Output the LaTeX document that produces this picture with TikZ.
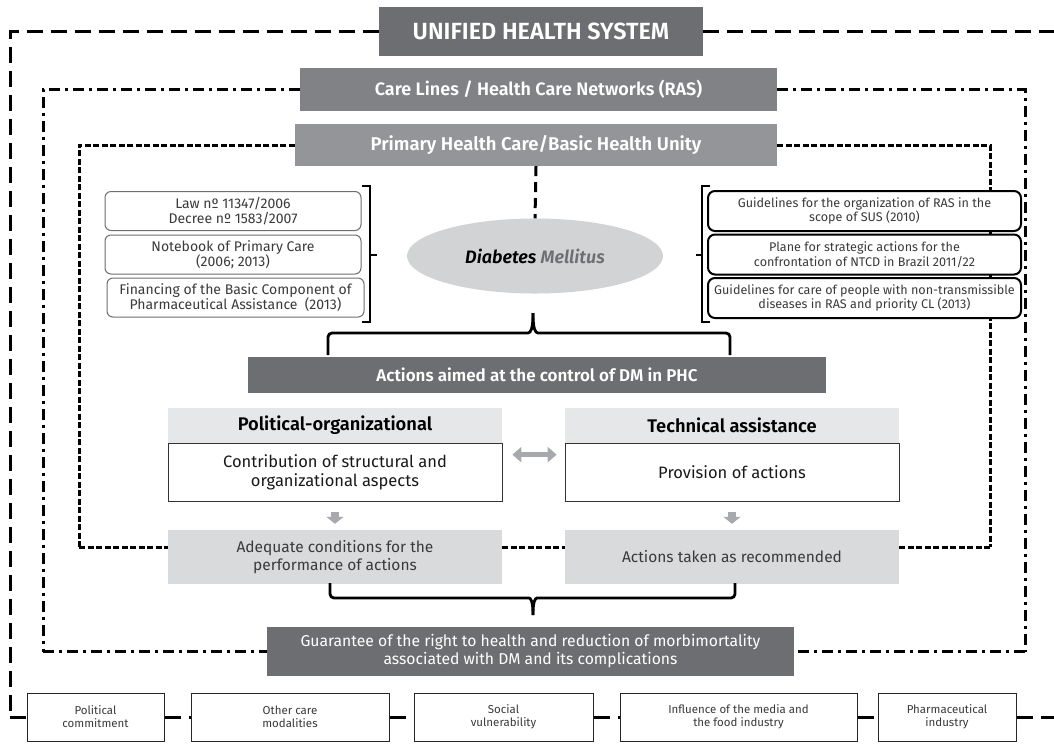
\documentclass[tikz,border=0pt]{standalone}
\usepackage{fontspec}
\setmainfont{Fira Sans}[BoldFont={Fira Sans SemiBold},BoldItalicFont={Fira Sans SemiBold Italic}]
\usetikzlibrary{arrows.meta,shapes.geometric,calc}
\definecolor{dk}{HTML}{6D6E71}
\definecolor{md}{HTML}{808285}
\definecolor{lt}{HTML}{939598}
\definecolor{ell}{HTML}{D1D3D4}
\definecolor{hdr}{HTML}{E6E7E8}
\definecolor{res}{HTML}{D9DADB}
\definecolor{arr}{HTML}{A7A9AC}
\definecolor{txt}{HTML}{3A3A3C}
\tikzset{
  banner/.style={fill=#1, text=white, inner sep=0pt, anchor=center},
  darkbar/.style={fill=dk, text=white, inner sep=0pt, anchor=center, align=center},
  lawbox/.style={draw=dk, line width=1pt, rounded corners=6pt, fill=white, inner sep=0pt, minimum height=39pt, text=txt, align=center, font=\fontsize{14}{15.5}\selectfont},
  guidebox/.style={draw=black, line width=2pt, rounded corners=7pt, fill=white, inner sep=0pt, minimum width=313pt, minimum height=40pt, text=txt, align=center, font=\fontsize{12.6}{14.5}\selectfont},
  headbox/.style={fill=hdr, inner sep=0pt, minimum width=334pt, minimum height=35pt, font=\bfseries\fontsize{18.3}{21}\selectfont},
  contbox/.style={draw=black!80, line width=1pt, fill=white, inner sep=0pt, minimum width=334pt, minimum height=58pt, align=center, font=\fontsize{16.5}{19}\selectfont, text=black!90},
  resbox/.style={fill=res, inner sep=0pt, minimum width=334pt, minimum height=54pt, align=center, font=\fontsize{15.5}{18}\selectfont, text=txt},
  factbox/.style={draw=black!85, line width=1pt, fill=white, inner sep=0pt, minimum height=48pt, align=center, font=\fontsize{11.5}{13}\selectfont, text=txt},
  outerline/.style={line width=3pt, dash pattern=on 16pt off 8pt},
  dashdotline/.style={line width=3pt, dash pattern=on 11pt off 5pt on 3pt off 5pt},
  finedash/.style={line width=3pt, dash pattern=on 6pt off 2.5pt},
  vdash/.style={line width=3pt, dash pattern=on 10pt off 6pt},
  bracefine/.style={line width=2.8pt, rounded corners=4pt},
  brack/.style={line width=1.4pt},
  grayarrow/.style={draw=arr, line width=8pt, -{Triangle[width=17pt,length=7pt]}},
  grayboth/.style={draw=arr, line width=5.5pt, {Triangle[width=15pt,length=9pt]}-{Triangle[width=15pt,length=9pt]}}
}
\begin{document}
\begin{tikzpicture}[x=1pt,y=-1pt]
\useasboundingbox (0,0) rectangle (1054,748);

% ---- title banners ----
\node[banner=dk, minimum width=324pt, minimum height=49pt, font=\bfseries\fontsize{23.4}{26}\selectfont] (uss) at (541,31.5) {UNIFIED HEALTH SYSTEM};
\node[banner=md, minimum width=477pt, minimum height=43pt, font=\bfseries\fontsize{18}{21}\selectfont] (cl) at (538.5,89.5) {Care Lines / Health Care Networks (RAS)};
\node[banner=lt, minimum width=482pt, minimum height=42pt, font=\bfseries\fontsize{18.5}{21}\selectfont] (phc) at (536,145) {Primary Health Care/Basic Health Unity};

\node[ellipse, fill=ell, minimum width=256pt, minimum height=75pt, inner sep=0pt, font=\bfseries\itshape\fontsize{18}{21}\selectfont] (dm) at (535,256) {Diabetes \textcolor{dk}{Mellitus}};

% coordinates for frame corners
\coordinate (otl) at (10,31.5);
\coordinate (obl) at (10,717);
\coordinate (otr) at (1054,31.5);
\coordinate (dtl) at (43,89.5);
\coordinate (dbl) at (43,651.5);
\coordinate (dtr) at (1025,89.5);
\coordinate (dbr) at (1025,651.5);
\coordinate (ftl) at (79,145);
\coordinate (fbl) at (79,547);
\coordinate (ftr) at (990,145);
\coordinate (fbr) at (990,547);
\coordinate (brend) at (1054,717);

% frames (drawn first)
\draw[outerline] (uss.west) -- (otl) -- (obl);
\draw[outerline] (uss.east) -- (otr);
\draw[dashdotline] (cl.west) -- (dtl) -- (dbl);
\draw[dashdotline] (cl.east) -- (dtr) -- (dbr);
\draw[finedash] (phc.west) -- (ftl) -- (fbl);
\draw[finedash] (phc.east) -- (ftr) -- (fbr);
\draw[vdash] (phc.south) -- (dm.north);

% left law boxes
\node[lawbox, minimum width=256pt] (l1) at (233,211) {Law nº 11347/2006\\Decree nº 1583/2007};
\node[lawbox, minimum width=256pt] (l2) at (233,254.5) {Notebook of Primary Care\\(2006; 2013)};
\node[lawbox, minimum width=257pt] (l3) at (235.5,297.5) {Financing of the Basic Component of\\Pharmaceutical Assistance~ (2013)};
\draw[brack] (362,186) -- (370,186) -- (370,322) -- (362,322);
\draw[brack] (370,255) -- (377,255);

% right guideline boxes
\node[guidebox] (g1) at (864.5,211) {Guidelines for the organization of RAS in the\\scope of SUS (2010)};
\node[guidebox] (g2) at (864.5,254.5) {Plane for strategic actions for the\\confrontation of NTCD in Brazil 2011/22};
\node[guidebox] (g3) at (864.5,298) {Guidelines for care of people with non-transmissible\\diseases in RAS and priority CL (2013)};
\draw[brack] (710,186) -- (702,186) -- (702,322) -- (710,322);
\draw[brack] (702,255) -- (696,255);

% actions bar
\node[darkbar, minimum width=578pt, minimum height=36pt, font=\bfseries\fontsize{17}{20}\selectfont] (act) at (537,375) {Actions aimed at the control of DM in PHC};

% top brace
\draw[bracefine] (328,355) -- (328,333) -- (524,333) .. controls (531,333) and (533,328) .. (533,313);
\draw[bracefine] (730,355) -- (730,333) -- (542,333) .. controls (535,333) and (533,328) .. (533,313);

% two columns
\node[headbox] (polh) at (335,425.5) {Political-organizational};
\node[contbox] (pcon) at (335,472) {Contribution of structural and\\organizational aspects};
\node[resbox] (padq) at (335,557) {Adequate conditions for the\\performance of actions};
\node[headbox] (tech) at (732,425.5) {Technical assistance};
\node[contbox] (prov) at (732,472) {Provision of actions};
\node[resbox] (tact) at (732,557) {Actions taken as recommended};

\draw[finedash] (fbl) -- (padq.west |- fbl);
\draw[finedash] (padq.east |- fbl) -- (tact.west |- fbl);
\draw[finedash] (fbr) -- (tact.east |- fbr);

\draw[grayarrow, shorten <=10pt, shorten >=6pt] (pcon.south) -- (padq.north);
\draw[grayarrow, shorten <=10pt, shorten >=6pt] (prov.south) -- (tact.north);
\draw[grayboth, shorten <=10pt, shorten >=8pt] ($(polh.north east)!.5!(pcon.south east)$) -- ($(tech.north west)!.5!(prov.south west)$);

% bottom brace
\draw[bracefine] (330,583) -- (330,598) -- (525,598) .. controls (531,598) and (533,602) .. (533,615);
\draw[bracefine] (735,583) -- (735,598) -- (541,598) .. controls (535,598) and (533,602) .. (533,615);

% guarantee
\node[darkbar, minimum width=527pt, minimum height=49pt, font=\fontsize{15.7}{18}\selectfont] (gar) at (530.5,651.5) {Guarantee of the right to health and reduction of morbimortality\\associated with DM and its complications};
\draw[dashdotline] (dbl) -- (gar.west);
\draw[dashdotline] (dbr) -- (gar.east);

% bottom factors
\node[factbox, minimum width=137pt] (b1) at (95.5,717) {Political\\commitment};
\node[factbox, minimum width=198pt] (b2) at (290,717) {Other care\\modalities};
\node[factbox, minimum width=179pt] (b3) at (503.5,717) {Social\\vulnerability};
\node[factbox, minimum width=237pt] (b4) at (738.5,717) {Influence of the media and\\the food industry};
\node[factbox, minimum width=138pt] (b5) at (947,717) {Pharmaceutical\\industry};
\draw[outerline] (obl) -- (b1.west);
\draw[outerline] (b1.east) -- (b2.west);
\draw[outerline] (b2.east) -- (b3.west);
\draw[outerline] (b3.east) -- (b4.west);
\draw[outerline] (b4.east) -- (b5.west);
\draw[outerline] (b5.east) -- (brend);
\end{tikzpicture}
\end{document}
